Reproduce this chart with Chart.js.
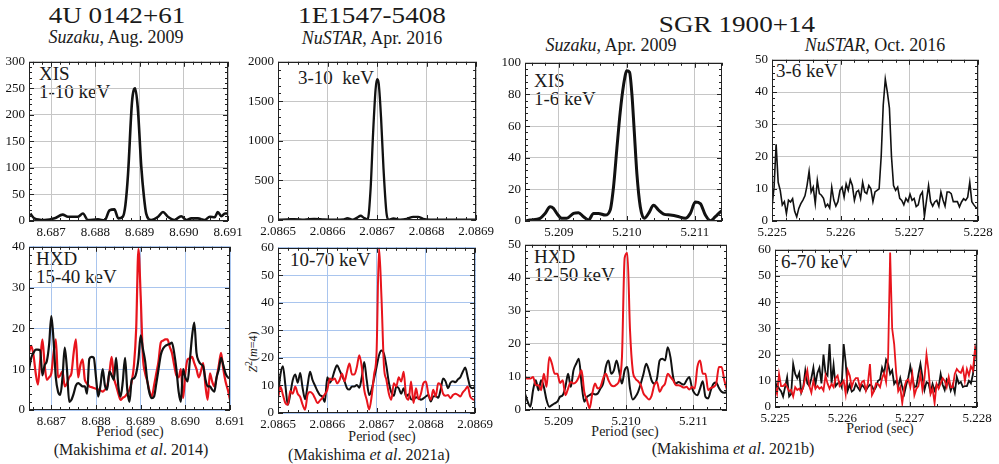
<!DOCTYPE html>
<html>
<head>
<meta charset="utf-8">
<title>Z2 periodograms - 4U 0142+61, 1E1547-5408, SGR 1900+14</title>
<script src="https://cdn.jsdelivr.net/npm/chart.js@4.4.0/dist/chart.umd.min.js"></script>
<style>
  body { margin: 0; background: #fff; }
  #page { position: relative; width: 999px; height: 464px; overflow: hidden;
          font-family: "Liberation Serif", "Times New Roman", serif; color: #1a1a1a; }
  #page canvas { position: absolute; }
  .t { position: absolute; white-space: nowrap; line-height: 1; transform: translate(-50%, -50%); }
  .src { font-size: 23px; transform: translate(-50%, -50%) scaleX(1.18); }
  .obs { font-size: 18px; }
  .band { position: absolute; white-space: nowrap; font-size: 19px; line-height: 18px; }
  .axis { font-size: 14px; }
  .ref { font-size: 16px; }
  .ytitle { position: absolute; white-space: nowrap; font-size: 12px; transform: translate(-50%, -50%) rotate(-90deg); }
</style>
</head>
<body>
<div id="page">
  <div class="t src" style="left:117px;top:15px">4U 0142+61</div>
  <div class="t obs" style="left:116px;top:37px"><i>Suzaku</i>, Aug. 2009</div>
  <div class="t src" style="left:372px;top:15px">1E1547-5408</div>
  <div class="t obs" style="left:372px;top:38px"><i>NuSTAR</i>, Apr. 2016</div>
  <div class="t src" style="left:737px;top:24px">SGR 1900+14</div>
  <div class="t obs" style="left:611px;top:45px"><i>Suzaku</i>, Apr. 2009</div>
  <div class="t obs" style="left:875px;top:45px"><i>NuSTAR</i>, Oct. 2016</div>

  <div class="band" style="left:39px;top:65px">XIS<br>1-10 keV</div>
  <div class="band" style="left:36px;top:250px">HXD<br>15-40 keV</div>
  <div class="band" style="left:298px;top:69px">3-10&nbsp; keV</div>
  <div class="band" style="left:290px;top:251px">10-70 keV</div>
  <div class="band" style="left:534px;top:72px">XIS<br>1-6 keV</div>
  <div class="band" style="left:534px;top:248px">HXD<br>12-50 keV</div>
  <div class="band" style="left:776px;top:62px">3-6 keV</div>
  <div class="band" style="left:781px;top:253px">6-70 keV</div>

  <div class="ytitle" style="left:252px;top:352px"><i>Z</i><sup>2</sup>(<i>m</i>=4)</div>

  <div class="t axis" style="left:130px;top:432px">Period (sec)</div>
  <div class="t axis" style="left:382px;top:437px">Period (sec)</div>
  <div class="t axis" style="left:625px;top:432px">Period (sec)</div>
  <div class="t axis" style="left:880px;top:429px">Period (sec)</div>
  <div class="t ref" style="left:131px;top:450px">(Makishima <i>et al</i>. 2014)</div>
  <div class="t ref" style="left:369px;top:455px">(Makishima <i>et al</i>. 2021a)</div>
  <div class="t ref" style="left:733px;top:449px">(Makishima <i>et al</i>. 2021b)</div>
</div>

<script>
// ---- 4U 0142+61, Suzaku ----
const u0142Ticks = [8.687, 8.688, 8.689, 8.690, 8.691];
const u0142XisPeriod = [8.68653, 8.68662, 8.68685, 8.68708, 8.68726, 8.68738, 8.68760, 8.68772, 8.68783, 8.68806,
  8.68821, 8.68832, 8.68843, 8.68852, 8.68862, 8.68868, 8.68874, 8.68883, 8.68890, 8.68896,
  8.68904, 8.68910, 8.68915, 8.68926, 8.68942, 8.68953, 8.68964, 8.68979, 8.68994, 8.69006,
  8.69017, 8.69032, 8.69047, 8.69059, 8.69070, 8.69077, 8.69085, 8.69093, 8.69100];
const u0142XisZ2 = [14, 5, 2, 5, 12, 8, 8, 14, 2, 3,
  1, 20, 22, 5, 8, 30, 89, 225, 250, 213,
  101, 45, 14, 2, 8, 17, 8, 2, 9, 2,
  5, 5, 2, 8, 7, 17, 9, 14, 14];
// HXD periodogram, sampled every 0.05 ms from 8.6865 s
const u0142HxdStart = 8.6865;
const u0142HxdStep = 0.00005;
const u0142HxdBlack = [9.9, 12.8, 14, 14.8, 14.8, 14.6, 8.5, 11, 12, 16,
  23, 17, 8, 4.5, 3.7, 8, 15.3, 10, 2, 2.5,
  4, 6, 6.6, 6.2, 5.8, 5.8, 4, 12.5, 13, 12.8,
  8, 3.3, 6, 10, 6, 5, 9.5, 8.5, 7.4, 12.8,
  5.8, 3.3, 7, 12.8, 5, 2, 7.4, 7.8, 9, 12.4,
  18.3, 15, 12, 7, 4, 2.9, 3.3, 6.5, 10, 13.5,
  15, 15.7, 16, 16.2, 16.5, 14, 10, 4.5, 2, 10,
  8, 7, 12, 18, 21.4, 14, 12, 11.2, 10.7, 7.5,
  5.8, 5.8, 5, 4.5, 8, 10, 12.8, 11, 9, 8,
  7.8];
const u0142HxdRed = [14, 15.7, 13.5, 9, 6.2, 12, 17.3, 11, 7.4, 8,
  9, 14, 17.3, 8, 8.5, 9.5, 5.8, 6.5, 8, 9,
  14, 17.3, 8, 11, 12.4, 7.4, 6.5, 5.8, 5.6, 5.4,
  5.2, 5, 4.8, 4.5, 5, 5.8, 9, 13, 8, 6,
  4, 2.5, 3, 3.3, 4, 5, 7, 11, 20, 39.5,
  28, 13, 9, 7, 4.5, 3.3, 6, 9, 12, 16.5,
  17, 17.3, 17.3, 15.5, 14, 11, 8.5, 8, 10, 2.9,
  9, 12.4, 12.6, 13, 11.5, 10, 8, 9.5, 11.5, 6,
  2.5, 9, 7, 5.8, 8, 11, 14, 10, 7, 5,
  2.5];

// ---- 1E1547-5408, NuSTAR ----
const e1547Ticks = [2.0865, 2.0866, 2.0867, 2.0868, 2.0869];
const e1547LowPeriod = [2.0865, 2.08652, 2.086533, 2.086553, 2.086573, 2.086593, 2.086613, 2.086633, 2.08664, 2.08665,
  2.08666, 2.086667, 2.086673, 2.086681, 2.086687, 2.086692, 2.086697, 2.0867, 2.086703, 2.086708,
  2.086713, 2.086719, 2.086723, 2.086733, 2.086747, 2.08676, 2.086773, 2.086783, 2.086793, 2.086807,
  2.086833, 2.086867, 2.0869];
const e1547LowZ2 = [5, 8, 12, 5, 15, 8, 5, 8, 22, 5,
  30, 54, 30, 5, 400, 1100, 1650, 1780, 1740, 1300,
  650, 90, 5, 20, 5, 15, 40, 40, 15, 5,
  3, 5, 3];
const e1547HighStart = 2.0865;
const e1547HighStep = 0.000005;
const e1547HighBlack = [6, 14, 17, 10, 3, 7, 12, 14, 11, 14.5,
  9, 5, 10, 15, 12, 10, 8, 6.5, 6, 4,
  13, 11, 12.5, 15.5, 17.3, 15.5, 13.5, 11.5, 9, 8.5,
  9.6, 9.6, 10.2, 9.2, 13, 18.5, 12, 6.5, 8.5, 12.5,
  16.7, 21, 22.7, 21.5, 17, 11, 7.5, 6.3, 9.5, 9,
  7, 9, 6, 6.8, 5, 4.8, 5.7, 5.5, 4.8, 5.3,
  6, 6.5, 4.2, 6, 6.2, 5.5, 8.4, 12.5, 11.5, 9,
  11, 11.5, 11.2, 12.2, 13, 15, 16.5, 13, 9.5, 9,
  9.6];
const e1547HighRed = [5.4, 9.5, 6.6, 3.6, 3, 8, 7, 9.6, 7, 5.8,
  3, 1.2, 6.6, 7.6, 7, 5.4, 3.6, 4.5, 5.5, 6.8,
  8.4, 12.5, 12, 12.5, 10.8, 12, 14.3, 11.5, 15, 18,
  14, 14, 16.7, 21, 16.7, 8.4, 4.8, 1.3, 6, 14,
  22, 60, 41.8, 17, 12, 7, 4.8, 10.8, 9.6, 13,
  11.4, 15, 6, 4.8, 11.4, 3.6, 9, 5, 7, 10.8,
  11.4, 7, 4.8, 8.4, 6, 10.8, 10.2, 7, 6.3, 6.5,
  5.4, 6.5, 7, 6.6, 6, 7.5, 8.5, 9.6, 6, 5,
  4.8];

// ---- SGR 1900+14, Suzaku ----
const sgrSuzakuTicks = [5.209, 5.210, 5.211];
const sgrXisPeriod = [5.2085, 5.208575, 5.208722, 5.208796, 5.20887, 5.208919, 5.208968, 5.209042, 5.209115, 5.209214,
  5.209287, 5.209361, 5.209435, 5.209509, 5.209582, 5.209681, 5.209754, 5.209803, 5.209853, 5.209902,
  5.209951, 5.21, 5.210039, 5.210074, 5.210108, 5.210147, 5.210197, 5.210256, 5.210319, 5.210393,
  5.210467, 5.210541, 5.210639, 5.210737, 5.21086, 5.210934, 5.211007, 5.211081, 5.211155, 5.211229,
  5.211302, 5.211376, 5.21141];
const sgrXisZ2 = [0, 0.6, 1.7, 4.8, 9, 8, 4.8, 1.7, 1.7, 4.8,
  5.2, 2.7, 0.6, 4.8, 4.8, 3.75, 6.9, 21.5, 46, 69,
  86, 95, 94, 80, 57, 30, 9, 1.7, 4.8, 10,
  6.9, 4.4, 3.75, 3, 1.7, 4.8, 12, 11, 3.75, 0.2,
  2.7, 5.8, 6.9];
const sgrHxdStart = 5.2085;
const sgrHxdStep = 0.00004;
const sgrHxdBlack = [5, 2.5, 1, 6, 9, 6, 9, 7, 3, 1,
  1.5, 2, 2.5, 4, 4.5, 7, 11, 7, 12, 14,
  15.5, 8, 2.5, 4, 4.5, 5, 4.7, 5, 6.5, 8,
  13, 15, 11, 12, 15, 11.5, 8, 12, 13, 6.5,
  3.2, 4, 5.5, 8, 11, 14, 12, 9, 8, 9.5,
  15, 15.5, 15, 19, 16, 10, 8, 8.5, 8, 7.7,
  9, 10, 6.7, 5, 4.5, 6.5, 8.7, 4, 3.5, 6,
  8, 8.3, 6.7, 5.5, 5.2, 5.5];
const sgrHxdRed = [10, 9.5, 9.5, 10, 7.5, 7.5, 6, 11, 7, 16,
  14, 11, 11, 8.2, 9, 4.5, 6.5, 8.5, 8, 8.5,
  10, 12, 5.5, 3, 0.5, 5, 8, 6.5, 7, 9.5,
  11, 9, 7.5, 7.2, 7.7, 9, 16, 46, 47.5, 24,
  12, 9.5, 8.7, 7.5, 5, 4, 3.2, 4.3, 7.5, 8.5,
  5.5, 7, 8, 11, 10, 9, 7.5, 7.5, 7.2, 6.8,
  7, 6.2, 7, 6.5, 13, 15, 11, 11, 6, 6.7,
  7, 8, 13, 13, 9, 6];

// ---- SGR 1900+14, NuSTAR ----
const sgrNuTicks = [5.225, 5.226, 5.227, 5.228];
const sgrNuStart = 5.225;
const sgrNuStep = 0.00003;
const sgrNuLow = [4.4, 10.5, 23.8, 12, 9.5, 5, 6, 2.3, 6.5, 5.9,
  6.9, 3, 1.3, 3.9, 5.4, 6.5, 7.8, 11, 15.4, 9,
  10.5, 5.4, 12.6, 8.5, 8, 7, 4.4, 5.2, 4, 10.5,
  6.5, 4.6, 6, 9.5, 10.5, 7.4, 11.5, 9.5, 12.8, 11,
  6.4, 9, 9.5, 7, 12, 9, 8.5, 11, 10, 6,
  9, 9.5, 10, 20, 36, 44, 40, 35, 20, 11,
  9.5, 10.5, 7, 6.4, 5, 7, 6, 8.3, 6.4, 7,
  4.5, 5, 8, 9, 1.5, 6.4, 11, 6, 4.6, 5.9,
  6.4, 4.6, 9, 6.5, 4.6, 9, 9, 8.5, 6, 6,
  6, 4.4, 5.9, 6.9, 6.4, 7.4, 12, 6, 5, 4.2,
  3.9];
const sgrNuHighBlack = [6.3, 8.8, 7, 6, 4, 7.6, 11.4, 4, 5, 16.4,
  12.6, 11, 13, 5.5, 7.6, 13.9, 9, 8, 11, 15,
  8.5, 13, 15, 9, 20, 13, 12, 24, 9, 16,
  8, 9, 9.5, 7.6, 24, 17, 6.3, 8.5, 5.9, 6.5,
  8.8, 7.4, 6.3, 8.5, 7.6, 6.3, 7.6, 8.5, 8, 6.3,
  7.6, 10, 10.5, 15, 12.6, 18, 16.4, 12.6, 14, 8.8,
  10, 8, 11, 7.6, 5, 8.5, 11.4, 15.5, 11.4, 7.6,
  8, 12.5, 16.4, 11.4, 6.5, 9.5, 9, 5.5, 8.8, 6.3,
  8.5, 7.6, 12.6, 8.5, 6.5, 10.5, 9.5, 6.3, 8.5, 5.5,
  11.5, 9, 9.6, 7.6, 8, 8, 10, 9, 12.5, 20,
  25];
const sgrNuHighRed = [7.6, 5, 12.6, 8, 8, 8.8, 7.6, 6, 6.5, 4,
  7.6, 6.5, 7, 5.5, 7.6, 11, 14, 8, 5.5, 10,
  7, 8, 7, 7.6, 6.3, 12, 9, 7, 8.8, 7.6,
  11, 12, 8, 8.8, 10, 5, 14, 12, 7.6, 10,
  11, 11, 7.6, 9.5, 10, 6.3, 9, 16.4, 4.5, 6,
  9, 8.8, 7.6, 11, 13, 9.5, 19, 59, 30, 24,
  13, 6, 7.6, 1.5, 7.6, 10, 10.5, 7.6, 12.6, 4.5,
  7, 8, 12.6, 6.5, 11, 20, 13.9, 5, 7, 1.5,
  8.8, 7, 9, 11, 10, 7.6, 11.5, 7.5, 7.6, 12.6,
  14.5, 13.5, 13, 15, 10, 14.5, 12, 15.5, 14, 22,
  18];

const BLACK = '#111111';
const RED = '#e8141c';
const GRAY_GRID = '#c6c6c6';
const BLUE_GRID = '#a9c5ee';

Chart.defaults.font.family = "'Liberation Serif', 'Times New Roman', serif";
Chart.defaults.font.size = 13;
Chart.defaults.color = '#111';

function pairPoints(xs, ys) {
  return xs.map((x, i) => ({ x: x, y: ys[i] }));
}
function gridPoints(start, step, ys) {
  return ys.map((y, i) => ({ x: start + i * step, y: y }));
}

// box frame with small inward ticks on all four sides
const framePlugin = {
  id: 'frame',
  afterDatasetsDraw(chart, args, o) {
    const { ctx, chartArea: a } = chart;
    const x = chart.scales.x, y = chart.scales.y;
    ctx.save();
    ctx.strokeStyle = '#222';
    ctx.lineWidth = 1;
    ctx.beginPath();
    for (let k = Math.ceil(x.min / o.xMinor - 1e-6); k * o.xMinor <= x.max + o.xMinor * 1e-3; k++) {
      const px = Math.round(x.getPixelForValue(k * o.xMinor)) + 0.5;
      const len = k % 5 === 0 ? 5 : 3;
      ctx.moveTo(px, a.top); ctx.lineTo(px, a.top + len);
      ctx.moveTo(px, a.bottom); ctx.lineTo(px, a.bottom - len);
    }
    for (let k = 0; k * o.yMinor <= y.max + 1e-9; k++) {
      const py = Math.round(y.getPixelForValue(k * o.yMinor)) + 0.5;
      const len = k % 5 === 0 ? 5 : 3;
      ctx.moveTo(a.left, py); ctx.lineTo(a.left + len, py);
      ctx.moveTo(a.right, py); ctx.lineTo(a.right - len, py);
    }
    ctx.stroke();
    ctx.strokeRect(Math.round(a.left) + 0.5, Math.round(a.top) + 0.5,
                   Math.round(a.width) - 1, Math.round(a.height) - 1);
    ctx.restore();
  }
};

function panel(p) {
  const padL = 36, padT = 10, padR = 20, padB = 22;
  const c = document.createElement('canvas');
  c.width = p.box[2] - p.box[0] + padL + padR;
  c.height = p.box[3] - p.box[1] + padT + padB;
  c.style.left = (p.box[0] - padL) + 'px';
  c.style.top = (p.box[1] - padT) + 'px';
  document.getElementById('page').appendChild(c);

  new Chart(c, {
    type: 'line',
    data: {
      datasets: p.series.map(s => ({
        data: s.points,
        borderColor: s.color,
        borderWidth: p.lineWidth,
        pointRadius: 0,
        fill: false,
        tension: p.smooth ? 0.35 : 0,
        cubicInterpolationMode: p.smooth ? 'monotone' : 'default'
      }))
    },
    options: {
      responsive: false,
      animation: false,
      devicePixelRatio: 1,
      events: [],
      layout: { autoPadding: false, padding: { left: 0, top: padT, right: padR, bottom: 0 } },
      plugins: {
        legend: { display: false },
        tooltip: { enabled: false },
        frame: { xMinor: p.xMinor, yMinor: p.yMinor }
      },
      scales: {
        x: {
          type: 'linear',
          min: p.xMin,
          max: p.xMax,
          afterBuildTicks: s => { s.ticks = p.xTicks.map(v => ({ value: v })); },
          afterFit: s => { s.height = padB; },
          grid: { color: p.grid, lineWidth: 1, drawTicks: false },
          border: { display: false },
          ticks: { color: '#111', padding: 4, maxRotation: 0, autoSkip: false,
                   callback: v => Number(v).toFixed(p.xDec) }
        },
        y: {
          type: 'linear',
          min: 0,
          max: p.yMax,
          afterFit: s => { s.width = padL; },
          grid: { color: p.grid, lineWidth: 1, drawTicks: false },
          border: { display: false },
          ticks: { color: '#111', padding: 4, stepSize: p.yStep, autoSkip: false,
                   callback: v => String(v) }
        }
      }
    },
    plugins: [framePlugin]
  });
}

function drawAll() {
  // 4U 0142+61
  panel({ box: [29, 60, 228, 221], xMin: 8.6865, xMax: 8.691, xTicks: u0142Ticks, xDec: 3, xMinor: 0.0002,
    yMax: 300, yStep: 50, yMinor: 10, grid: GRAY_GRID, lineWidth: 2.6, smooth: true,
    series: [{ points: pairPoints(u0142XisPeriod, u0142XisZ2), color: BLACK }] });
  panel({ box: [29, 245, 230, 410], xMin: 8.6865, xMax: 8.691, xTicks: u0142Ticks, xDec: 3, xMinor: 0.0002,
    yMax: 40, yStep: 10, yMinor: 2, grid: BLUE_GRID, lineWidth: 2.2, smooth: true,
    series: [{ points: gridPoints(u0142HxdStart, u0142HxdStep, u0142HxdBlack), color: BLACK },
             { points: gridPoints(u0142HxdStart, u0142HxdStep, u0142HxdRed), color: RED }] });

  // 1E1547-5408
  panel({ box: [278, 60, 478, 220], xMin: 2.0865, xMax: 2.0869, xTicks: e1547Ticks, xDec: 4, xMinor: 0.00002,
    yMax: 2000, yStep: 500, yMinor: 100, grid: GRAY_GRID, lineWidth: 2.3, smooth: true,
    series: [{ points: pairPoints(e1547LowPeriod, e1547LowZ2), color: BLACK }] });
  panel({ box: [278, 246, 477, 413], xMin: 2.0865, xMax: 2.0869, xTicks: e1547Ticks, xDec: 4, xMinor: 0.00002,
    yMax: 60, yStep: 10, yMinor: 2, grid: BLUE_GRID, lineWidth: 2, smooth: true,
    series: [{ points: gridPoints(e1547HighStart, e1547HighStep, e1547HighRed), color: RED },
             { points: gridPoints(e1547HighStart, e1547HighStep, e1547HighBlack), color: BLACK }] });

  // SGR 1900+14, Suzaku
  panel({ box: [525, 61, 722, 221], xMin: 5.2085, xMax: 5.2114, xTicks: sgrSuzakuTicks, xDec: 3, xMinor: 0.0002,
    yMax: 100, yStep: 20, yMinor: 4, grid: GRAY_GRID, lineWidth: 3, smooth: true,
    series: [{ points: pairPoints(sgrXisPeriod, sgrXisZ2), color: BLACK }] });
  panel({ box: [525, 243, 727, 410], xMin: 5.2085, xMax: 5.2115, xTicks: sgrSuzakuTicks, xDec: 3, xMinor: 0.0002,
    yMax: 50, yStep: 10, yMinor: 2, grid: GRAY_GRID, lineWidth: 2, smooth: true,
    series: [{ points: gridPoints(sgrHxdStart, sgrHxdStep, sgrHxdRed), color: RED },
             { points: gridPoints(sgrHxdStart, sgrHxdStep, sgrHxdBlack), color: BLACK }] });

  // SGR 1900+14, NuSTAR
  panel({ box: [772, 58, 978, 221], xMin: 5.225, xMax: 5.228, xTicks: sgrNuTicks, xDec: 3, xMinor: 0.0002,
    yMax: 50, yStep: 10, yMinor: 2, grid: GRAY_GRID, lineWidth: 1.6, smooth: false,
    series: [{ points: gridPoints(sgrNuStart, sgrNuStep, sgrNuLow), color: BLACK }] });
  panel({ box: [775, 248, 977, 407], xMin: 5.225, xMax: 5.228, xTicks: sgrNuTicks, xDec: 3, xMinor: 0.0002,
    yMax: 60, yStep: 10, yMinor: 2, grid: GRAY_GRID, lineWidth: 1.8, smooth: false,
    series: [{ points: gridPoints(sgrNuStart, sgrNuStep, sgrNuHighRed), color: RED },
             { points: gridPoints(sgrNuStart, sgrNuStep, sgrNuHighBlack), color: BLACK }] });
}

if (document.fonts && document.fonts.load) {
  document.fonts.load("13px 'Liberation Serif'").then(drawAll, drawAll);
} else {
  drawAll();
}
</script>
</body>
</html>
